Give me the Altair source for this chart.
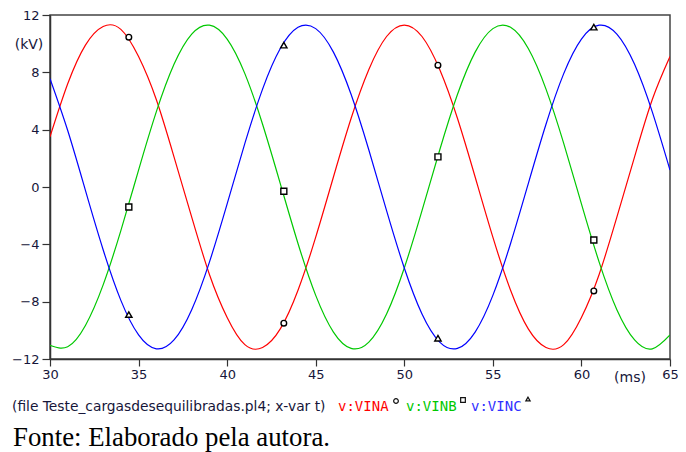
import altair as alt
import pandas as pd

# ---- data ----
t_ms = list(range(30, 66))
vina = [3.5, 7.2, 9.9, 11.2, 11.0, 9.1, 6.1, 2.1, -2.1, -6.1, -9.1, -11.0, -11.2, -9.9, -7.2, -3.5,
        0.7, 4.8, 8.2, 10.5, 11.3, 10.5, 8.2, 4.8, 0.7, -3.5, -7.2, -9.9, -11.2, -11.0, -9.1, -6.1,
        -2.1, 2.1, 6.1, 9.1]
vinb = [-11.05, -11.14, -9.66, -6.83, -3.04, 1.18, 5.24, 8.56, 10.67, 11.29, 10.32, 7.91, 4.38, 0.24,
        -3.94, -7.56, -10.12, -11.26, -10.82, -8.86, -5.65, -1.65, 2.58, 6.45, 9.41, 11.05, 11.14,
        9.66, 6.83, 3.04, -1.18, -5.24, -8.56, -10.67, -11.29, -10.32]
vinc = [7.56, 3.94, -0.24, -4.38, -7.91, -10.32, -11.29, -10.67, -8.56, -5.24, -1.18, 3.04, 6.83, 9.66,
        11.14, 11.05, 9.41, 6.45, 2.58, -1.65, -5.65, -8.86, -10.82, -11.26, -10.12, -7.56, -3.94,
        0.24, 4.38, 7.91, 10.32, 11.29, 10.67, 8.56, 5.24, 1.18]

marker_t = [34.45, 43.2, 51.9, 60.7]
marker_a = [10.45, -9.5, 8.5, -7.25]
marker_b = [-1.4, -0.3, 2.1, -3.7]
marker_c = [-8.9, 9.9, -10.55, 11.15]

series_names = ["v:VINA", "v:VINB", "v:VINC"]
series_colors = ["#ff0000", "#00c800", "#0000ff"]
series_shapes = ["circle", "square", "triangle-up"]
x_ticks = [30, 35, 40, 45, 50, 55, 60, 65]
y_ticks = [-12, -8, -4, 0, 4, 8, 12]

# ---- tables ----
rows = []
for name, vals in zip(series_names, [vina, vinb, vinc]):
    for t, v in zip(t_ms, vals):
        rows.append({"s": name, "t": t, "v": v})
df_lines = pd.DataFrame(rows)

mrows = []
for name, vals in zip(series_names, [marker_a, marker_b, marker_c]):
    for t, v in zip(marker_t, vals):
        mrows.append({"s": name, "t": t, "v": v})
df_marks = pd.DataFrame(mrows)

dummy = pd.DataFrame({"a": [0]})

FONT = "DejaVu Sans"
MONO = "DejaVu Sans Mono"
TXT = "#16163a"

xscale = alt.Scale(domain=[30, 65], nice=False, zero=False)
yscale = alt.Scale(domain=[-12, 12], nice=False, zero=False)
cscale = alt.Scale(domain=series_names, range=series_colors)
sscale = alt.Scale(domain=series_names, range=series_shapes)
zscale = alt.Scale(domain=series_names, range=[32, 40, 26])

xaxis = alt.Axis(values=x_ticks, title=None, grid=False, format="d", tickSize=7,
                 labelPadding=2, labelFont=FONT, labelFontSize=13, labelColor=TXT,
                 labelFlush=False, labelOverlap=False,
                 tickColor="#333333", domainColor="#333333", domainWidth=1.5, tickWidth=1.2)
yaxis = alt.Axis(values=y_ticks, title=None, grid=False, format="d", tickSize=8,
                 labelPadding=3, labelFont=FONT, labelFontSize=13, labelColor=TXT,
                 labelFlush=False, labelOverlap=False,
                 tickColor="#333333", domainColor="#333333", domainWidth=1.5, tickWidth=1.2)

lines = alt.Chart(df_lines).mark_line(strokeWidth=1.2, interpolate="natural", clip=True).encode(
    x=alt.X("t:Q", scale=xscale, axis=xaxis),
    y=alt.Y("v:Q", scale=yscale, axis=yaxis),
    color=alt.Color("s:N", scale=cscale, legend=None),
)

markers = alt.Chart(df_marks).mark_point(filled=True, fill="white", stroke="black",
                                         strokeWidth=1.4, opacity=1).encode(
    x=alt.X("t:Q", scale=xscale),
    y=alt.Y("v:Q", scale=yscale),
    shape=alt.Shape("s:N", scale=sscale, legend=None),
    size=alt.Size("s:N", scale=zscale, legend=None),
)


def label(text, x, y, color, size, font=FONT, align="left"):
    return alt.Chart(dummy).mark_text(text=text, align=align, baseline="middle", font=font,
                                      fontSize=size, color=color).encode(
        x=alt.value(x), y=alt.value(y))


def symbol(shape, x, y, size):
    return alt.Chart(dummy).mark_point(shape=shape, filled=False, stroke="#111111",
                                       strokeWidth=1.2, size=size, opacity=1).encode(
        x=alt.value(x), y=alt.value(y))


layers = [
    lines,
    markers,
    label("(kV)", -21, 30, TXT, 14, align="center"),
    label("(ms)", 580, 363, TXT, 14, align="center"),
    label("(file Teste_cargasdesequilibradas.pl4; x-var t)", -38, 392, TXT, 13.8),
    label("v:VINA", 288, 392, series_colors[0], 14, font=MONO),
    label("v:VINB", 356, 392, series_colors[1], 14, font=MONO),
    label("v:VINC", 421, 392, "#3030ff", 14, font=MONO),
    symbol("circle", 346, 386, 22),
    symbol("square", 413, 385, 22),
    symbol("triangle-up", 478, 384, 18),
    label("Fonte: Elaborado pela autora.", -37, 423, "#000000", 26.8, font="Liberation Serif"),
]

chart = alt.layer(*layers).properties(
    width=620,
    height=344,
    autosize=alt.AutoSizeParams(type="none"),
    padding={"left": 42, "top": 7, "right": 8, "bottom": 94},
    background="white",
).configure_view(stroke="#444444", strokeWidth=1.5)

chart.save("out.html", embed_options={"renderer": "svg", "actions": False})
